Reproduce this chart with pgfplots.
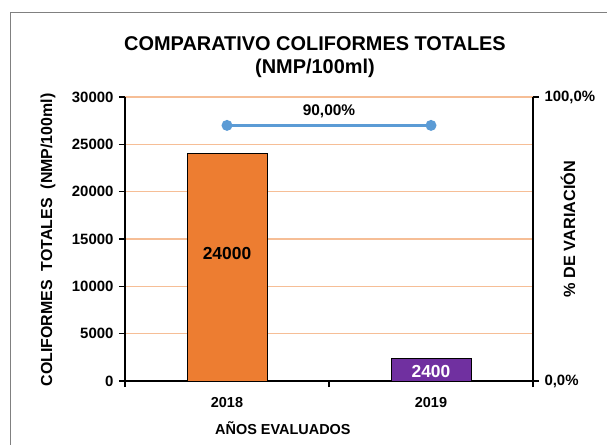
\documentclass[border=0pt]{standalone}
\usepackage{pgfplots}
\pgfplotsset{compat=1.18}
\usepackage{fontspec}
\setmainfont{Liberation Sans}
\definecolor{barorange}{HTML}{ED7D31}
\definecolor{barpurple}{HTML}{7030A0}
\definecolor{lineblue}{HTML}{5B9BD5}
\definecolor{gridorange}{HTML}{F6BE96}
\begin{document}
\begin{tikzpicture}
% page frame (the chart area border, cut at right and bottom)
\path[use as bounding box] (-125bp,-64bp) rectangle (482bp,381bp);
\draw[gray, line width=1bp] (-114bp,-64bp) -- (-114bp,368bp) -- (482bp,368bp);

\pgfplotsset{
  base/.style={
    scale only axis, width=408bp, height=284bp,
    xmin=-0.5, xmax=1.5,
    /pgf/number format/assume math mode=true,
    /pgf/number format/1000 sep={},
    scaled ticks=false,
    tick align=outside,
    major tick length=6bp,
    tick style={black, line width=1.5bp},
    axis line style={black, line width=2bp},
  },
}

% bars: coliformes totales
\begin{axis}[base,
  axis x line*=bottom, axis y line*=left,
  ymin=0, ymax=30000, ytick={0,5000,...,30000},
  ymajorgrids, grid style={gridorange, line width=1.1bp},
  xtick={-0.5,0.5,1.5}, xticklabels={},
  extra x ticks={0,1}, extra x tick labels={2018,2019},
  extra x tick style={major tick length=0pt, grid=none,
    tick label style={font=\fontsize{14.5}{16}\selectfont\bfseries, yshift=-13bp}},
  yticklabel style={font=\fontsize{15}{17}\selectfont\bfseries, xshift=-2bp},
  title={COMPARATIVO COLIFORMES TOTALES\\(NMP/100ml)},
  title style={at={(0.4657,1.118)}, anchor=center, align=center,
    font=\fontsize{20}{23}\selectfont\bfseries},
  xlabel={AÑOS\ EVALUADOS},
  every axis x label/.style={at={(0.387,-0.1655)}, anchor=center,
    font=\fontsize{14.5}{16}\selectfont\bfseries},
  ylabel={COLIFORMES\hspace{9bp}TOTALES\hspace{9bp}(NMP/100ml)},
  every axis y label/.style={at={(-0.1887,0.4965)}, anchor=center, rotate=90,
    font=\fontsize{16}{18}\selectfont\bfseries},
]
\addplot[ybar, bar width=80bp, bar shift=0pt, fill=barorange, draw=black, line width=0.8bp,
  nodes near coords,
  every node near coord/.append style={anchor=center, yshift=-100bp,
    font=\fontsize{17.5}{19}\selectfont\bfseries, text=black}]
  coordinates {(0,24000)};
\addplot[ybar, bar width=80bp, bar shift=0pt, fill=barpurple, draw=black, line width=0.8bp,
  nodes near coords,
  every node near coord/.append style={anchor=center, yshift=-13bp,
    font=\fontsize{17.5}{19}\selectfont\bfseries, text=white}]
  coordinates {(1,2400)};
\end{axis}

% line: porcentaje de variacion
\begin{axis}[base,
  axis y line*=right, axis x line=none,
  ymin=0, ymax=100, ytick={0,100}, yticklabels={{0,0\%},{100,0\%}},
  yticklabel style={font=\fontsize{15}{17}\selectfont\bfseries, xshift=2bp},
  ylabel={\% DE VARIACIÓN},
  every axis y label/.style={at={(1.0858,0.535)}, anchor=center, rotate=90,
    font=\fontsize{16.3}{18}\selectfont\bfseries},
]
\addplot[lineblue, line width=2.8bp, mark=*, mark size=4bp,
  mark options={fill=lineblue, draw=lineblue}]
  coordinates {(0,90) (1,90)};
\node[font=\fontsize{15.5}{17}\selectfont\bfseries] at (axis cs:0.5,90) [yshift=14bp] {90,00\%};
\end{axis}
\end{tikzpicture}
\end{document}
